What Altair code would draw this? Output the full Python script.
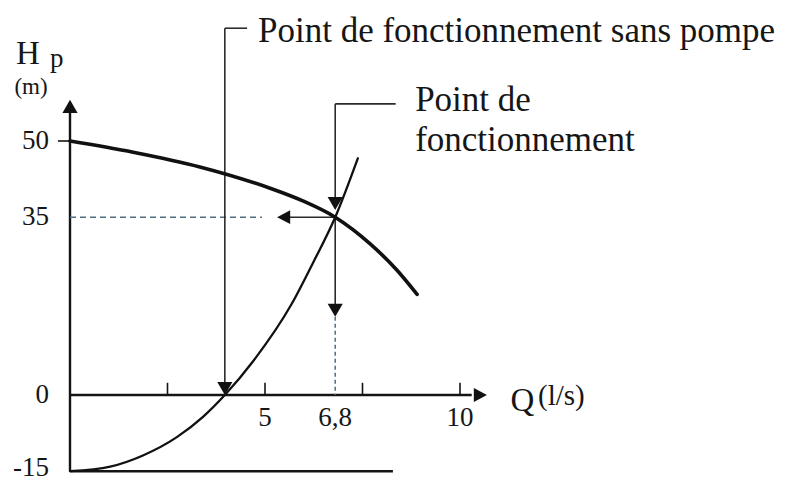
import altair as alt
import pandas as pd

# --- curves (Q in l/s, H in m) ---
pump_q = [0, 1.62, 3.33, 5.13, 5.97, 6.8, 7.69, 8.38, 8.9]
pump_h = [50, 47.8, 44.9, 40.7, 38.2, 35, 29.8, 24.6, 19.8]
sys_q = [0, 1.03, 1.87, 2.74, 3.41, 3.97, 4.69, 5.69, 6.23, 6.8, 7.38]
sys_h = [-15, -14.1, -11.9, -8.3, -4.3, 0, 6.6, 18.0, 26.0, 35, 46.6]

# operating points
q_op, h_op = 6.8, 35
q_np = 3.97  # without pump (H = 0)

# axis tick values / labels
xtick_q = [2.5, 5, 7.5, 10]
xlab_q = [5, 6.8, 10]
xlab_t = ["5", "6,8", "10"]
ylab_h = [50, 35, 0, -15]
ylab_t = ["50", "35", "0", "-15"]
ylab_pos = [50, 35, 0, -14.4]

# scales
W, H = 774, 475
PXQ, PXH = 39.0, 5.08
XD = [-62 / PXQ, -62 / PXQ + W / PXQ]
YD = [387 / PXH - H / PXH, 387 / PXH]
xs = alt.Scale(domain=XD, nice=False, zero=False)
ys = alt.Scale(domain=YD, nice=False, zero=False)
FONT = "Liberation Serif"
INK = "#161616"

def line_layer(q, h, width, color="#111111", interp="monotone"):
    df = pd.DataFrame({"q": q, "h": h, "o": range(len(q))})
    return alt.Chart(df).mark_line(
        strokeWidth=width, color=color, interpolate=interp, strokeCap="round"
    ).encode(
        x=alt.X("q:Q", scale=xs, axis=None),
        y=alt.Y("h:Q", scale=ys, axis=None),
        order="o:Q",
    )

def seg_layer(x1, y1, x2, y2, width, color, dash=None):
    df = pd.DataFrame({"x1": x1, "y1": y1, "x2": x2, "y2": y2})
    kw = dict(strokeWidth=width, color=color)
    if dash:
        kw["strokeDash"] = dash
    return alt.Chart(df).mark_rule(**kw).encode(
        x=alt.X("x1:Q", scale=xs, axis=None),
        y=alt.Y("y1:Q", scale=ys, axis=None),
        x2="x2:Q",
        y2="y2:Q",
    )

def arrow_layer(x, y, path, size=760):
    df = pd.DataFrame({"x": x, "y": y})
    return alt.Chart(df).mark_point(
        shape=path, filled=True, size=size, color="#111111", opacity=1, strokeWidth=0
    ).encode(
        x=alt.X("x:Q", scale=xs, axis=None),
        y=alt.Y("y:Q", scale=ys, axis=None),
    )

def text_layer(x, y, t, fs, align="left", baseline="alphabetic"):
    df = pd.DataFrame({"x": x, "y": y, "t": t})
    return alt.Chart(df).mark_text(
        font=FONT, fontSize=fs, align=align, baseline=baseline, color=INK
    ).encode(
        x=alt.X("x:Q", scale=xs, axis=None),
        y=alt.Y("y:Q", scale=ys, axis=None),
        text="t:N",
    )

DOWN = "M0,0L-0.55,-0.95L0.55,-0.95Z"
LEFT = "M0,0L0.95,-0.5L0.95,0.5Z"
UP = "M0,0L-0.55,0.95L0.55,0.95Z"
RIGHT = "M0,0L-0.95,-0.5L-0.95,0.5Z"

AX = "#141414"
LEAD = "#2b2b2b"
DASHC = "#4d6f82"

layers = [
    # axes
    seg_layer([0, 0, 0], [-15, 0, -15], [0, 10.3, 8.28], [56.5, 0, -15], 2.4, AX),
    # ticks
    seg_layer(xtick_q, [0] * 4, xtick_q, [2.4] * 4, 1.6, AX),
    seg_layer([-0.31], [50], [0], [50], 1.6, AX),
    # dashed guides
    seg_layer([0], [h_op], [4.92], [h_op], 1.5, DASHC, [6, 4]),
    seg_layer([q_op], [15.4], [q_op], [0], 1.5, DASHC, [4, 3]),
    # leader lines / arrow stems
    seg_layer([q_np, q_np, q_op, q_op, q_op, q_op],
              [72.2, 72.2, 57.3, 57.3, h_op, h_op],
              [q_np, 4.54, q_op, 8.35, 5.55, q_op],
              [1.5, 72.2, 38.0, 57.3, h_op, 17.0], 1.6, LEAD),
    # curves
    line_layer(pump_q, pump_h, 3.6),
    line_layer(sys_q, sys_h, 2.3),
    # arrowheads
    arrow_layer([q_np, q_op, q_op], [0, 36.4, 15.4], DOWN),
    arrow_layer([5.31], [h_op], LEFT),
    arrow_layer([0], [58.1], UP),
    arrow_layer([10.69], [0], RIGHT),
    # annotations
    text_layer([4.82], [69.5], ["Point de fonctionnement sans pompe"], 35),
    text_layer([8.85, 8.85], [55.9, 48.0], ["Point de", "fonctionnement"], 35),
    # tick labels
    text_layer([-0.54] * 4, ylab_pos, ylab_t, 27, align="right", baseline="middle"),
    text_layer(xlab_q, [-4.5] * 3, xlab_t, 27, align="center", baseline="middle"),
    # axis titles
    text_layer([11.6], [-3.1], ["Q"], 33, align="center"),
    text_layer([12.6], [-2.0], ["(l/s)"], 29, align="center"),
    text_layer([-1.08], [65.2], ["H"], 33, align="center"),
    text_layer([-0.34], [64.6], ["p"], 27, align="center"),
    text_layer([-1.0], [60.6], ["(m)"], 23, align="center", baseline="middle"),
]

chart = alt.layer(*layers).properties(
    width=W, height=H, autosize=alt.AutoSizeParams(type="none"), padding=0
).configure_view(stroke=None)

chart.save("out.html", embed_options={"renderer": "svg", "actions": False})
